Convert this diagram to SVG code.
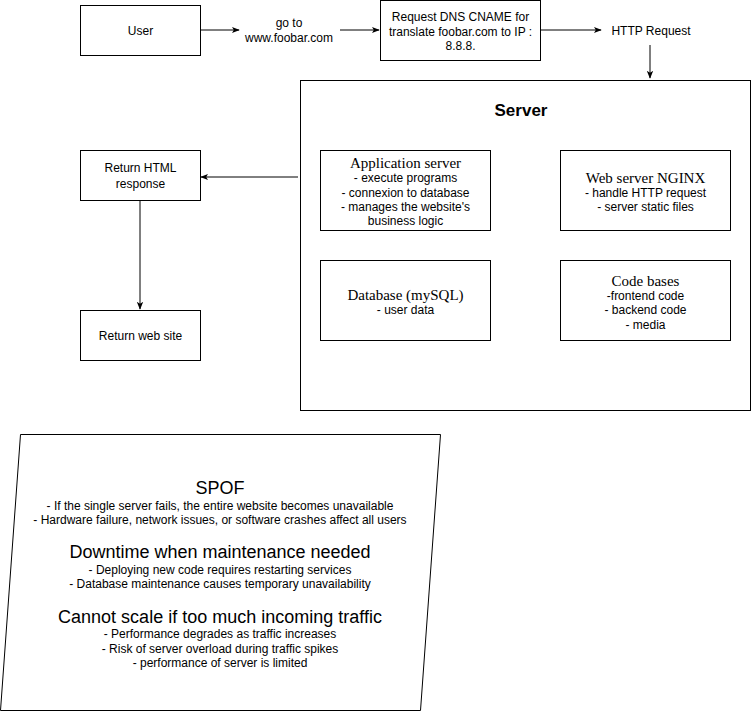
<svg xmlns="http://www.w3.org/2000/svg" width="752" height="712" viewBox="0 0 752 712">
<style>
.box{fill:#fff;stroke:#000;stroke-width:1}
.t{font-family:"Liberation Sans",Arial,sans-serif;font-size:12px;fill:#000;text-anchor:middle}
.s{font-family:"Liberation Serif","Times New Roman",serif;font-size:15px;fill:#000;text-anchor:middle}
.h{font-family:"Liberation Sans",Arial,sans-serif;font-size:18px;fill:#000;text-anchor:middle}
.e{fill:none;stroke:#000;stroke-width:1}
</style>
<defs>
<marker id="arr" viewBox="0 0 10 10" refX="9" refY="5" markerWidth="8" markerHeight="8" markerUnits="userSpaceOnUse" orient="auto">
<path d="M0,1 L10,5 L0,9 L2.5,5 z" fill="#000"/>
</marker>
</defs>
<rect x="0" y="0" width="752" height="712" fill="#fff"/>
<g id="connectors">
<line class="e" x1="200" y1="30" x2="239" y2="30" marker-end="url(#arr)"/>
<line class="e" x1="340" y1="30" x2="379" y2="30" marker-end="url(#arr)"/>
<line class="e" x1="540" y1="30" x2="601" y2="30" marker-end="url(#arr)"/>
<line class="e" x1="650" y1="45" x2="650" y2="78" marker-end="url(#arr)"/>
<line class="e" x1="298" y1="177" x2="201" y2="177" marker-end="url(#arr)"/>
<line class="e" x1="140" y1="200" x2="140" y2="309" marker-end="url(#arr)"/>
</g>
<g id="user">
<rect class="box" x="80.5" y="5.5" width="120" height="50"/>
<text class="t" x="140.5" y="34.5">User</text>
</g>
<g id="goto">
<text class="t" x="289" y="27">go to</text>
<text class="t" x="289" y="42">www.foobar.com</text>
</g>
<g id="dns">
<rect class="box" x="380.5" y="0.5" width="160" height="60"/>
<text class="t" x="460.5" y="21">Request DNS CNAME for</text>
<text class="t" x="460.5" y="35.5">translate foobar.com to IP :</text>
<text class="t" x="460.5" y="50">8.8.8.</text>
</g>
<g id="http">
<text class="t" x="651" y="34.5">HTTP Request</text>
</g>
<g id="server">
<rect class="box" x="300.5" y="80.5" width="450" height="330"/>
<text x="521" y="116" style="font-family:'Liberation Sans',Arial,sans-serif;font-size:17px;font-weight:bold;text-anchor:middle">Server</text>
</g>
<g id="appserver">
<rect class="box" x="320.5" y="150.5" width="170" height="80"/>
<text class="s" x="405.5" y="167.5">Application server</text>
<text class="t" x="405.5" y="181.5">- execute programs</text>
<text class="t" x="405.5" y="196.5">- connexion to database</text>
<text class="t" x="405.5" y="211">- manages the website's</text>
<text class="t" x="405.5" y="225">business logic</text>
</g>
<g id="webserver">
<rect class="box" x="560.5" y="150.5" width="170" height="80"/>
<text class="s" x="645.5" y="183">Web server NGINX</text>
<text class="t" x="645.5" y="196.5">- handle HTTP request</text>
<text class="t" x="645.5" y="211">- server static files</text>
</g>
<g id="database">
<rect class="box" x="320.5" y="260.5" width="170" height="80"/>
<text class="s" x="405.5" y="300">Database (mySQL)</text>
<text class="t" x="405.5" y="314">- user data</text>
</g>
<g id="codebases">
<rect class="box" x="560.5" y="260.5" width="170" height="80"/>
<text class="s" x="645.5" y="285.5">Code bases</text>
<text class="t" x="645.5" y="299.5">-frontend code</text>
<text class="t" x="645.5" y="314">- backend code</text>
<text class="t" x="645.5" y="328.5">- media</text>
</g>
<g id="returnhtml">
<rect class="box" x="80.5" y="150.5" width="120" height="50"/>
<text class="t" x="140.5" y="172">Return HTML</text>
<text class="t" x="140.5" y="188">response</text>
</g>
<g id="returnsite">
<rect class="box" x="80.5" y="310.5" width="120" height="50"/>
<text class="t" x="140.5" y="339.5">Return web site</text>
</g>
<g id="issues">
<polygon class="box" points="20.5,434.5 440.5,434.5 420.5,710.5 0.5,710.5"/>
<text class="h" x="220" y="494">SPOF</text>
<text class="t" x="220" y="510">- If the single server fails, the entire website becomes unavailable</text>
<text class="t" x="220" y="523.5">- Hardware failure, network issues, or software crashes affect all users</text>
<text class="h" x="220" y="558">Downtime when maintenance needed</text>
<text class="t" x="220" y="574">- Deploying new code requires restarting services</text>
<text class="t" x="220" y="588">- Database maintenance causes temporary unavailability</text>
<text class="h" x="220" y="623">Cannot scale if too much incoming traffic</text>
<text class="t" x="220" y="637.5">- Performance degrades as traffic increases</text>
<text class="t" x="220" y="652.5">- Risk of server overload during traffic spikes</text>
<text class="t" x="220" y="666.5">- performance of server is limited</text>
</g>
</svg>
